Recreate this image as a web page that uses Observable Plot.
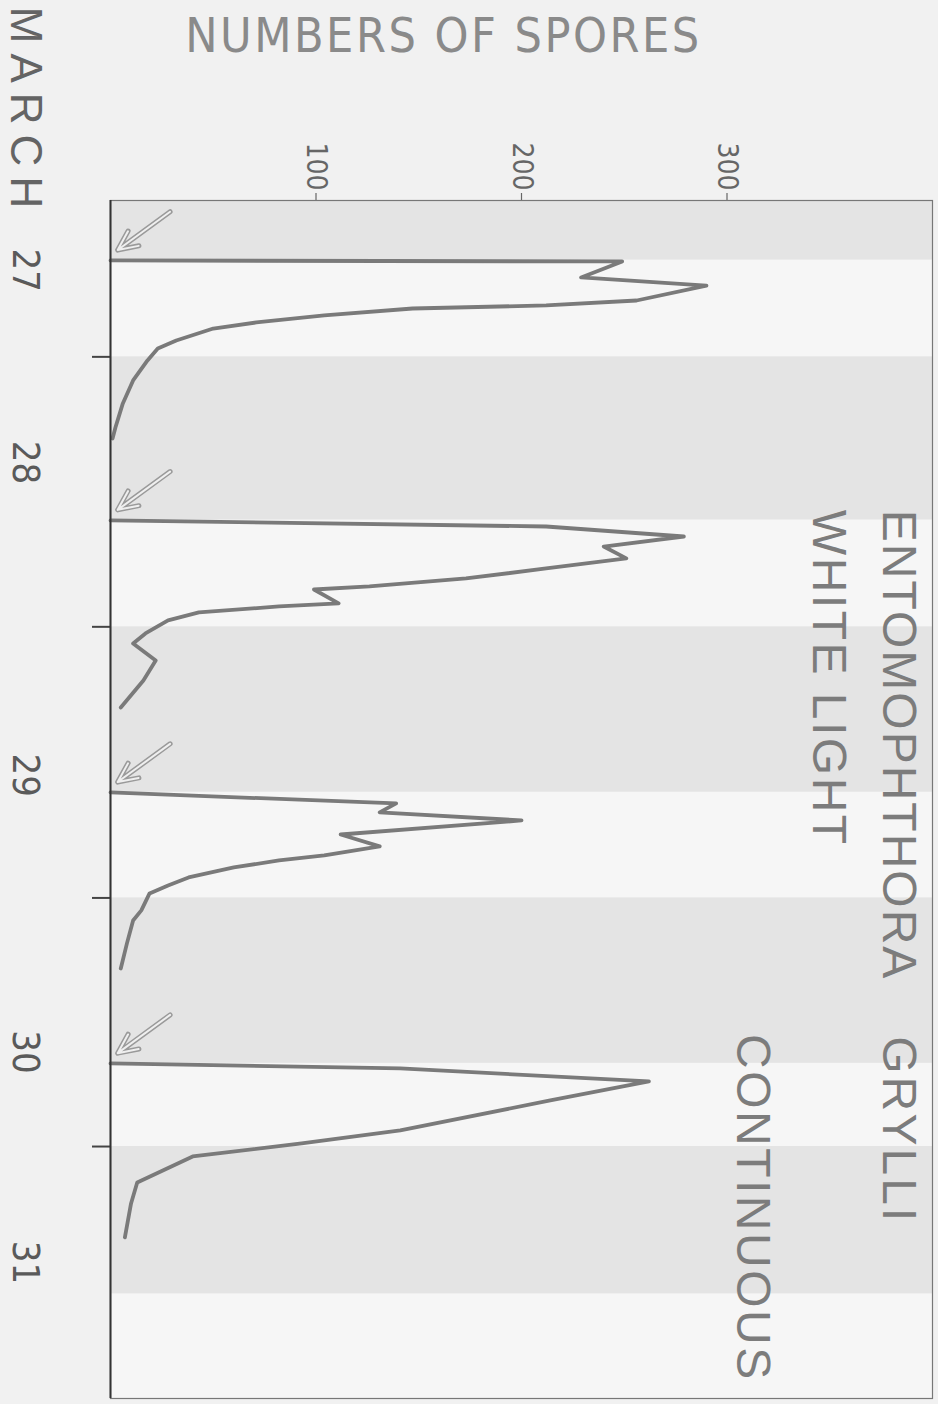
<!DOCTYPE html>
<html><head><meta charset="utf-8">
<script src="https://cdn.jsdelivr.net/npm/d3@7"></script>
<script src="https://cdn.jsdelivr.net/npm/@observablehq/plot@0.6"></script>
<style>
html,body{margin:0;padding:0;background:#f1f1f1;}
#chart svg{display:block;}
</style></head><body><div id="chart"></div>
<script>
// Spore-count axis ticks
const xTicks = [100, 200, 300];
// Day labels (March) and their positions on the time axis (hours from top of chart)
const days = ["27", "28", "29", "30", "31"];
const dayLabelHour = [6.2, 23.3, 51.1, 75.7, 94.4];
// Shaded (dark) periods, in hours
const darkStart = [0, 13.9, 37.9, 62.0, 84.1];
const darkEnd = [5.3, 28.4, 52.6, 76.7, 97.2];
// Left-axis tick marks (start of each shaded period)
const dayTickHour = [13.9, 37.9, 62.0, 84.1];
// Arrows marking the onset of each discharge
const spikeHour = [5.3, 28.4, 52.6, 76.7];

// Spore counts per discharge curve (hours, spores)
const hours27 = [5.33, 5.42, 6.84, 7.56, 8.89, 9.33, 9.6, 10.22, 10.84, 11.38, 12.44, 13.16, 14.22, 16.0, 18.04, 20.18, 21.16];
const spores27 = [0, 249, 229, 290, 256, 212, 147, 104, 71, 50, 32, 23, 18, 11, 6, 2.4, 1];
const hours28 = [28.44, 28.98, 29.87, 30.76, 31.82, 32.71, 33.6, 34.31, 34.58, 35.82, 36.09, 36.62, 37.33, 38.49, 39.38, 40.89, 42.67, 45.07];
const spores28 = [0, 212, 279, 240, 251, 212, 173, 126, 99, 111, 82, 43, 28, 17, 11, 22, 16, 5];
const hours29 = [52.62, 53.6, 54.4, 55.11, 56.36, 57.42, 58.22, 58.67, 59.29, 60.18, 60.89, 61.6, 63.11, 64.0, 66.04, 68.27];
const spores29 = [0, 139, 131, 200, 112, 131, 104, 82, 60, 38, 28, 19, 15, 11, 8, 5];
const hours30 = [76.71, 77.16, 78.31, 80.0, 82.67, 83.82, 84.98, 87.29, 89.16, 92.18];
const spores30 = [0, 141, 262, 214, 141, 93, 40, 13, 10, 7];

const curves = [
  {day: "27", hours: hours27, spores: spores27},
  {day: "28", hours: hours28, spores: spores28},
  {day: "29", hours: hours29, spores: spores29},
  {day: "30", hours: hours30, spores: spores30}
];
const rows = curves.flatMap(c => c.hours.map((h, i) => ({day: c.day, h, s: c.spores[i]})));
const bands = darkStart.map((s, i) => ({start: s, end: darkEnd[i]}));

const narrow = "'Liberation Sans Narrow', 'DejaVu Sans Condensed', 'Liberation Sans', sans-serif";
const sans = "'Liberation Sans', 'DejaVu Sans', sans-serif";

const chart = Plot.plot({
  width: 938,
  height: 1404,
  marginLeft: 110,
  marginRight: 6,
  marginTop: 200,
  marginBottom: 6,
  style: {background: "transparent", overflow: "visible"},
  x: {domain: [0, 400], axis: null},
  y: {domain: [0, 106.5], reverse: true, axis: null},
  marks: [
    Plot.frame({fill: "#f6f6f6", stroke: "none"}),
    Plot.rect(bands, {y1: "start", y2: "end", fill: "#e4e4e4"}),
    Plot.axisY({anchor: "left", ticks: dayTickHour, tickSize: 18, tickFormat: () => "", label: null, stroke: "#444", strokeWidth: 2}),
    Plot.axisX({anchor: "top", ticks: xTicks, tickSize: 8, tickFormat: () => "", label: null, stroke: "#666", strokeWidth: 1.2}),
    Plot.text(xTicks, {x: d => d, frameAnchor: "top", dy: -10, rotate: 90, textAnchor: "end", lineAnchor: "middle", fontSize: 28, fontFamily: narrow, fill: "#666"}),
    Plot.text(days, {y: (d, i) => dayLabelHour[i], frameAnchor: "left", dx: -85, rotate: 90, textAnchor: "middle", lineAnchor: "middle", fontSize: 38, fontFamily: narrow, fill: "#5a5a5a"}),
    Plot.text(["MARCH"], {frameAnchor: "top-left", dx: -85, dy: -88, rotate: 90, textAnchor: "middle", lineAnchor: "middle", fontSize: 44, fontFamily: sans, fill: "#646464"}),
    Plot.text(["NUMBERS OF SPORES"], {frameAnchor: "top-left", dx: 333, dy: -164, textAnchor: "middle", lineAnchor: "middle", fontSize: 48, fontFamily: narrow, fill: "#8a8a8a"}),
    Plot.text(["ENTOMOPHTHORA"], {x: 383.5, y: 27.5, rotate: 90, textAnchor: "start", lineAnchor: "middle", fontSize: 48, fontFamily: sans, fill: "#7c7c7c"}),
    Plot.text(["GRYLLI"], {x: 383.5, y: 74.3, rotate: 90, textAnchor: "start", lineAnchor: "middle", fontSize: 48, fontFamily: sans, fill: "#7c7c7c"}),
    Plot.text(["WHITE LIGHT"], {x: 349.4, y: 27.5, rotate: 90, textAnchor: "start", lineAnchor: "middle", fontSize: 48, fontFamily: sans, fill: "#7c7c7c"}),
    Plot.text(["CONTINUOUS"], {x: 312.4, y: 74.1, rotate: 90, textAnchor: "start", lineAnchor: "middle", fontSize: 48, fontFamily: sans, fill: "#7c7c7c"}),
    Plot.arrow(spikeHour, {x1: 29, y1: d => d - 4.3, x2: 3.5, y2: d => d - 0.9, stroke: "#9a9a9a", strokeWidth: 5, headLength: 16, headAngle: 50}),
    Plot.arrow(spikeHour, {x1: 29, y1: d => d - 4.3, x2: 3.5, y2: d => d - 0.9, stroke: "#efefef", strokeWidth: 2, headLength: 16, headAngle: 50}),
    Plot.line(rows, {x: "s", y: "h", z: "day", stroke: "#7a7a7a", strokeWidth: 3.8, strokeLinejoin: "round", strokeLinecap: "round"}),
    Plot.frame({stroke: "#777", strokeWidth: 1.2}),
    Plot.ruleX([0], {stroke: "#333", strokeWidth: 2})
  ]
});

// letter spacing on the typeset labels
const spacing = {"MARCH": 10, "NUMBERS OF SPORES": 2.5, "ENTOMOPHTHORA": 2, "GRYLLI": 3, "WHITE LIGHT": 2.5, "CONTINUOUS": 2.5};
d3.select(chart).selectAll("text").each(function() {
  const t = this.textContent;
  if (spacing[t] != null) this.style.letterSpacing = spacing[t] + "px";
});

document.getElementById("chart").appendChild(chart);
</script>
</body></html>
